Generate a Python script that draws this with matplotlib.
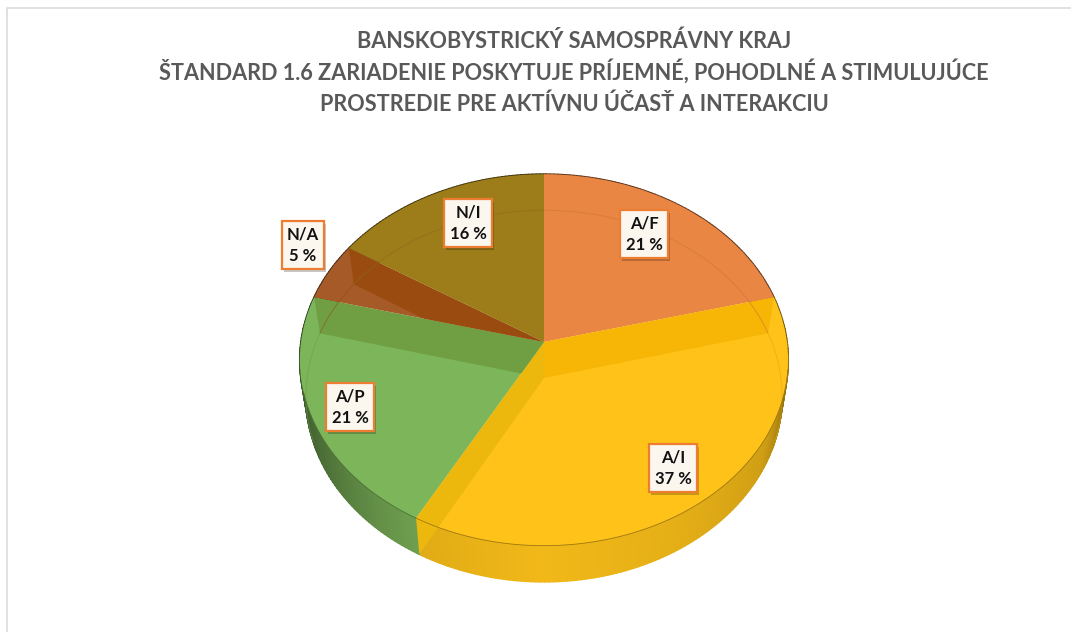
import numpy as np
import matplotlib
matplotlib.use("Agg")
import matplotlib.pyplot as plt
import matplotlib.patheffects as pe
from matplotlib.collections import PolyCollection
from matplotlib.colors import to_rgb
from matplotlib.patches import Polygon
from matplotlib.transforms import Transform

categories = ["A/F", "A/I", "A/P", "N/A", "N/I"]
shares = [21, 37, 21, 5, 16]
slice_colors = ["#ea8644", "#fec219", "#7db55a", "#a55a28", "#9c7d1a"]
title_lines = [
    "BANSKOBYSTRICKÝ SAMOSPRÁVNY KRAJ",
    "ŠTANDARD 1.6 ZARIADENIE POSKYTUJE PRÍJEMNÉ, POHODLNÉ A STIMULUJÚCE",
    "PROSTREDIE PRE AKTÍVNU ÚČASŤ A INTERAKCIU",
]
title_baselines = [48, 80, 111]
label_xy = [(644, 234), (673, 468), (350, 407), (303, 245), (468, 223)]

CX, CY, BX, AY, K, DEPTH, SHRINK = 544, 342, 243, 184, 0.0967, 36, 0.025


def project(x, y, z=0.0):
    x, y = np.asarray(x, float), np.asarray(y, float)
    w = 1 + K * y
    return np.column_stack([
        CX + BX * x / w * (1 - SHRINK * z) * np.ones_like(x),
        CY + DEPTH * z - AY * y / w,
    ])


class Perspective(Transform):
    input_dims = output_dims = 2
    is_separable = False
    has_inverse = False

    def transform_non_affine(self, values):
        v = np.asarray(values)
        return project(v[:, 0], v[:, 1])


plt.rcParams["font.family"] = ["Lato", "DejaVu Sans"]
fig = plt.figure(figsize=(10.71, 6.32), dpi=100, facecolor="white")
ax = fig.add_axes([0, 0, 1, 1])

wedges, _ = ax.pie(shares, colors=slice_colors, startangle=90, counterclock=False,
                   radius=1, wedgeprops={"linewidth": 0, "zorder": 2})
persp = Perspective() + ax.transData
for w in wedges:
    w.set_transform(persp)
    w.set_clip_on(False)
ax.set_aspect("auto")
ax.set_xlim(0, 1071)
ax.set_ylim(632, 0)
ax.axis("off")

# angular extents of each slice, taken from the pie itself
spans = [(w.theta1, w.theta2) for w in wedges]
stops = [-185, -175, -150, -119, -90, -60, -30, -10, 5, 20]
light = [0.42, 0.45, 0.62, 0.88, 0.95, 0.90, 0.82, 0.62, 0.46, 0.42]

# outer side wall, shaded along the rim
verts, faces = [], []
for (t1, t2), col in zip(spans, slice_colors):
    base = np.array(to_rgb(col))
    edges = np.arange(t1, t2 + 1.0, 1.0)
    edges[-1] = t2
    for a, b in zip(edges[:-1], edges[1:]):
        ra, rb = np.radians([a, b])
        top = project([np.cos(ra), np.cos(rb)], [np.sin(ra), np.sin(rb)], 0)
        bot = project([np.cos(rb), np.cos(ra)], [np.sin(rb), np.sin(ra)], 1)
        verts.append(np.vstack([top, bot]))
        phi = ((a + b) / 2 + 180) % 360 - 180
        if phi > 90:
            phi -= 360
        faces.append(base * np.interp(phi, stops, light))
ax.add_collection(PolyCollection(verts, facecolors=faces, edgecolors=faces,
                                 linewidths=1.3, zorder=1))


def wall(theta):
    r = np.radians(theta)
    c, s = np.cos(r), np.sin(r)
    return np.vstack([project([0, c], [0, s], 0), project([c, 0], [s, 0], 1)])


# inner cut faces seen through the translucent top: (slice, boundary angle, colour)
theta_ai_start = spans[1][1]
theta_ai_end = spans[1][0]
theta_ap_end = spans[2][0]
theta_na_end = spans[3][0]
for idx, th, col in [(1, theta_ai_start, "#f7b505"), (1, theta_ai_end, "#edb80e"),
                     (2, theta_ap_end, "#6f9f42"), (3, theta_na_end, "#9a4c10")]:
    poly = Polygon(wall(th), closed=True, facecolor=col, edgecolor="none", zorder=3)
    ax.add_patch(poly)
    if idx in (2, 3):
        poly.set_clip_path(wedges[idx])

# far bottom rim showing through the top face
for (t1, t2), col in zip(spans, slice_colors):
    t = np.linspace(t1, t2, 200)
    n = t % 360
    t = t[(n <= 200) | (n >= 340)]
    if t.size:
        r = np.radians(t)
        xy = project(np.cos(r), np.sin(r), 1)
        ax.plot(xy[:, 0], xy[:, 1], color=np.array(to_rgb(col)) * 0.86, lw=0.7,
                alpha=0.55, zorder=4, solid_capstyle="butt")

# thin dark edge between top face and side wall
for (t1, t2), col in zip(spans, slice_colors):
    t = np.linspace(t1, t2, 200)
    n = t % 360
    t = t[(n >= 195) & (n <= 352)]
    if t.size:
        r = np.radians(t)
        xy = project(np.cos(r), np.sin(r), 0)
        ax.plot(xy[:, 0], xy[:, 1], color=np.array(to_rgb(col)) * 0.62, lw=0.6,
                zorder=5, solid_capstyle="butt")

# data labels
for name, val, (x, y) in zip(categories, shares, label_xy):
    t = ax.text(x, y, f"{name}\n{val} %", ha="center", va="center", fontsize=12,
                fontweight="bold", color="#111111", linespacing=1.42, zorder=7,
                bbox=dict(boxstyle="square,pad=0.32", facecolor="#fbf6ee",
                          edgecolor="#ed7d31", linewidth=1.6))
    t.get_bbox_patch().set_path_effects([
        pe.SimplePatchShadow(offset=(1.5, -2), shadow_rgbFace="#000000", alpha=0.22),
        pe.Normal(),
    ])

for line, base in zip(title_lines, title_baselines):
    ax.text(574, base, line, ha="center", va="baseline", fontsize=15.6,
            fontweight="bold", color="#595959", zorder=8)

# chart frame: only its left and top sides fall inside the picture
ax.plot([6.5, 6.5, 1071], [632, 7.5, 7.5], color="#dcdcdc", lw=1.2, zorder=0,
        solid_joinstyle="miter")

fig.savefig("out.png", dpi=100, facecolor="white")
